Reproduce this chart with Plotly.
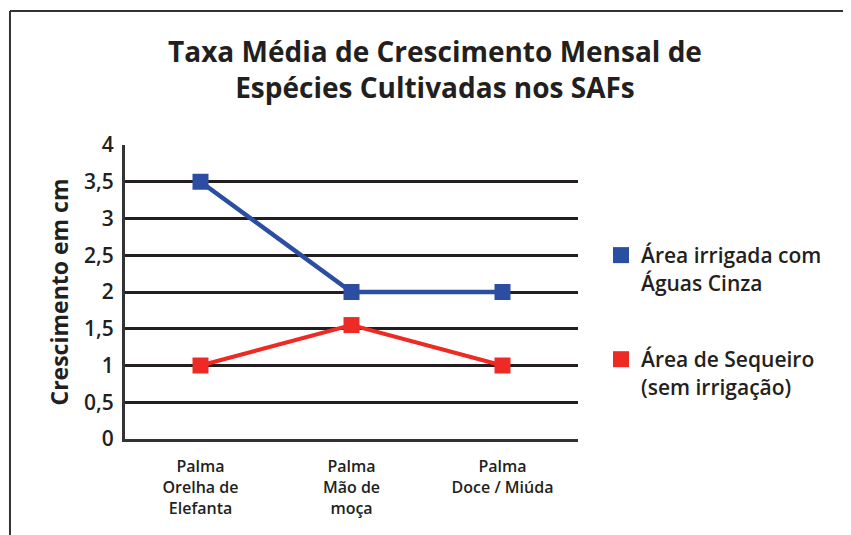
import plotly.graph_objects as go

categories = ["Palma<br>Orelha de<br>Elefanta", "Palma<br>Mão de<br>moça", "Palma<br>Doce / Miúda"]
irrigada = [3.5, 2.0, 2.0]
sequeiro = [1.0, 1.55, 1.0]
y_ticks = [0, 0.5, 1, 1.5, 2, 2.5, 3, 3.5, 4]
y_tick_labels = ["0", "0,5", "1", "1,5", "2", "2,5", "3", "3,5", "4"]

BLUE = "#2b4ea2"
RED = "#ee2a24"
DARK = "#231f20"
FONT = "Open Sans"

fig = go.Figure()
fig.add_trace(go.Scatter(x=categories, y=irrigada, mode="lines+markers",
                         line=dict(color=BLUE, width=4.5),
                         marker=dict(symbol="square", size=16, color=BLUE),
                         showlegend=False))
fig.add_trace(go.Scatter(x=categories, y=sequeiro, mode="lines+markers",
                         line=dict(color=RED, width=4),
                         marker=dict(symbol="square", size=16, color=RED),
                         showlegend=False))
# legend entries (markers only)
fig.add_trace(go.Scatter(x=[None], y=[None], mode="markers",
                         marker=dict(symbol="square", size=16, color=BLUE),
                         name="Área irrigada com<br>Águas Cinza", legend="legend"))
fig.add_trace(go.Scatter(x=[None], y=[None], mode="markers",
                         marker=dict(symbol="square", size=16, color=RED),
                         name="Área de Sequeiro<br>(sem irrigação)", legend="legend2"))

legend_common = dict(font=dict(family=FONT, size=21, color=DARK, weight=600),
                     valign="top", bgcolor="rgba(0,0,0,0)", borderwidth=0,
                     xanchor="left", yanchor="top", xref="paper", yref="paper",
                     itemclick=False)

fig.update_layout(
    width=843, height=527,
    paper_bgcolor="white", plot_bgcolor="white",
    margin=dict(l=117, r=273, t=137, b=96),
    title=dict(text="Taxa Média de Crescimento Mensal de<br>Espécies Cultivadas nos SAFs",
               x=0.5065, xref="container", xanchor="center",
               y=0.898, yref="container", yanchor="middle",
               font=dict(family=FONT, size=28, color=DARK, weight="bold")),
    xaxis=dict(type="category", range=[-0.5, 2.5], showgrid=False,
               showline=True, linecolor="#333333", linewidth=3,
               ticks="", tickfont=dict(family=FONT, size=16, color=DARK, weight=600),
               ticklabelstandoff=11),
    yaxis=dict(range=[0, 4], tickvals=y_ticks, ticktext=y_tick_labels,
               showgrid=True, gridcolor=DARK, gridwidth=3,
               showline=True, linecolor="#333333", linewidth=3, zeroline=False,
               ticks="", tickfont=dict(family=FONT, size=21, color=DARK, weight=600),
               ticklabelstandoff=4,
               title=dict(text="Crescimento em cm", standoff=10,
                          font=dict(family=FONT, size=23, color=DARK, weight="bold"))),
    legend=dict(x=1.0508, y=0.694, **legend_common),
    legend2=dict(x=1.0508, y=0.340, **legend_common),
    shapes=[
        dict(type="line", xref="paper", yref="paper", x0=-0.2539, x1=1.6026, y0=1.4558, y1=1.4558,
             line=dict(color="#333333", width=2)),
        dict(type="line", xref="paper", yref="paper", x0=-0.2539, x1=-0.2539, y0=1.4558, y1=-0.3265,
             line=dict(color="#333333", width=2)),
    ],
)
fig.write_html("out.html")
